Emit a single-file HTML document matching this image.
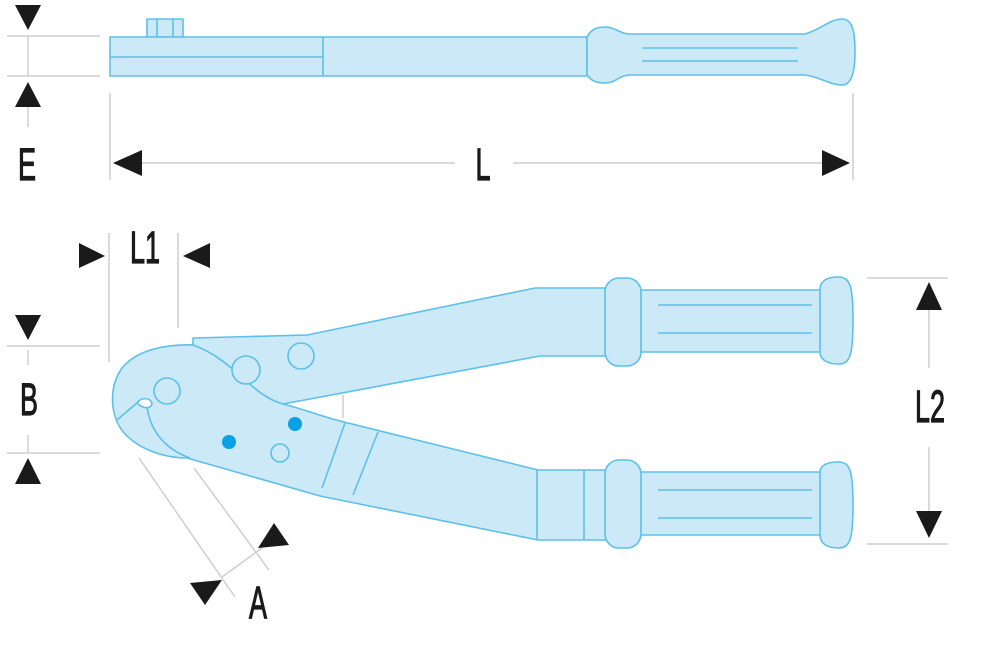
<!DOCTYPE html>
<html><head><style>
html,body{margin:0;padding:0;background:#fff;}
svg{display:block;}
text{font-family:"Liberation Sans",sans-serif;fill:#1a1a1a;stroke:#1a1a1a;stroke-width:1.2;}
</style></head><body>
<svg width="1000" height="645" viewBox="0 0 1000 645" xmlns="http://www.w3.org/2000/svg">
<g stroke="#cfcfcf" stroke-width="1.5" fill="none">
  <line x1="7" y1="36" x2="100" y2="36"/><line x1="7" y1="76" x2="100" y2="76"/>
  <line x1="28" y1="36" x2="28" y2="76"/><line x1="28" y1="107" x2="28" y2="127"/>
  <line x1="110" y1="93" x2="110" y2="180"/><line x1="853" y1="93" x2="853" y2="180"/>
  <line x1="140" y1="163" x2="455" y2="163"/><line x1="513" y1="163" x2="825" y2="163"/>
  <line x1="109" y1="233" x2="109" y2="362"/><line x1="178" y1="233" x2="178" y2="328"/>
  <line x1="7" y1="346" x2="100" y2="346"/><line x1="7" y1="453" x2="100" y2="453"/>
  <line x1="28" y1="350" x2="28" y2="365"/><line x1="28" y1="435" x2="28" y2="452"/>
  <line x1="139" y1="458" x2="235" y2="597"/><line x1="194" y1="468" x2="269" y2="570"/>
  <line x1="222" y1="577" x2="262" y2="548"/>
  <line x1="867" y1="278" x2="948" y2="278"/><line x1="867" y1="544" x2="948" y2="544"/>
  <line x1="929" y1="308" x2="929" y2="368"/><line x1="929" y1="447" x2="929" y2="512"/>
  <line x1="343" y1="395" x2="343" y2="418"/>
</g>
<g fill="#1a1a1a">
  <polygon points="15,5 41,5 28,30"/><polygon points="15,107 41,107 28,82"/>
  <polygon points="113,163 142,150 142,176"/><polygon points="850,163 822,150 822,176"/>
  <polygon points="105,256 79,243 79,268"/><polygon points="183,256 210,243 210,268"/>
  <polygon points="15,315 41,315 28,340"/><polygon points="15,484 41,484 28,458"/>
  <polygon points="222,580 190,583 205,605"/><polygon points="258,548 289,545 274,523"/>
  <polygon points="916,310 942,310 929,282"/><polygon points="916,511 942,511 929,538"/>
</g>
<g font-size="45">
  <text transform="translate(27,180) scale(0.6,1)" text-anchor="middle">E</text>
  <text transform="translate(483,180) scale(0.6,1)" text-anchor="middle">L</text>
  <text transform="translate(145,263) scale(0.6,1)" text-anchor="middle">L1</text>
  <text transform="translate(29,415) scale(0.6,1)" text-anchor="middle">B</text>
  <text transform="translate(258,618) scale(0.6,1)" text-anchor="middle">A</text>
  <text transform="translate(930,422) scale(0.6,1)" text-anchor="middle">L2</text>
</g>
<g fill="#cce9f8" stroke="#5cc0ea" stroke-width="1.6" stroke-linejoin="round">
  <rect x="147" y="19" width="36" height="18"/>
  <line x1="157" y1="19" x2="157" y2="37"/><line x1="173" y1="19" x2="173" y2="37"/>
  <rect x="110" y="37" width="477" height="39"/>
  <line x1="323" y1="37" x2="323" y2="76"/><line x1="110" y1="57" x2="323" y2="57"/>
  <path d="M587,37 C592,28 598,27 606,27 C615,27 620,34 630,34 L805,34 C820,30 830,19 842,19 C852,19 855,30 855,52 C855,75 850,85 842,85 C830,85 820,77 805,75 L630,75 C620,75 615,83 606,83 C598,83 592,82 587,75 Z"/>
  <line x1="642" y1="48" x2="798" y2="48"/><line x1="642" y1="61" x2="798" y2="61"/>
  <path d="M200,345 C175,344 140,346 122,368 C108,388 110,418 125,434 C140,450 165,458 187,458 L320,496 L538,540 L610,540 L610,470 L538,470 L340,421 C320,416 300,408 283,404 Z"/>
  <line x1="345" y1="423" x2="322" y2="488"/><line x1="378" y1="432" x2="353" y2="495"/>
  <line x1="537" y1="470" x2="537" y2="540"/><line x1="584" y1="470" x2="584" y2="540"/>
  <path d="M117,420 L138,402" fill="none"/>
  <path d="M147,407 C150,428 162,448 190,458" fill="none"/>
  <path d="M137,403 C141,397 151,397 152,404 C150,410 142,408 137,403 Z" fill="#fff"/>
  <circle cx="167" cy="391" r="13"/><circle cx="280" cy="453" r="9"/>
  <path d="M193,338 L307,335 L535,288 L612,288 L612,356 L540,356 L283,404 C250,395 235,360 193,345 Z"/>
  <circle cx="246" cy="370" r="14"/><circle cx="301" cy="356" r="13"/>
  <rect x="640" y="290" width="185" height="62"/>
  <path d="M820,290 C820,280 828,277 838,277 C850,277 853,285 853,320 C853,356 850,364 838,364 C828,364 820,360 820,352 Z"/>
  <rect x="605" y="278" width="36" height="88" rx="14"/>
  <line x1="658" y1="305" x2="812" y2="305"/><line x1="658" y1="333" x2="812" y2="333"/>
  <rect x="640" y="472" width="185" height="63"/>
  <path d="M820,472 C820,465 828,462 838,462 C850,462 853,470 853,505 C853,540 850,548 838,548 C828,548 820,544 820,535 Z"/>
  <rect x="605" y="460" width="36" height="88" rx="14"/>
  <line x1="658" y1="490" x2="812" y2="490"/><line x1="658" y1="518" x2="812" y2="518"/>
</g>
<g fill="#0aa0e6"><circle cx="229" cy="442" r="7"/><circle cx="295" cy="424" r="7"/></g>
</svg>
</body></html>
